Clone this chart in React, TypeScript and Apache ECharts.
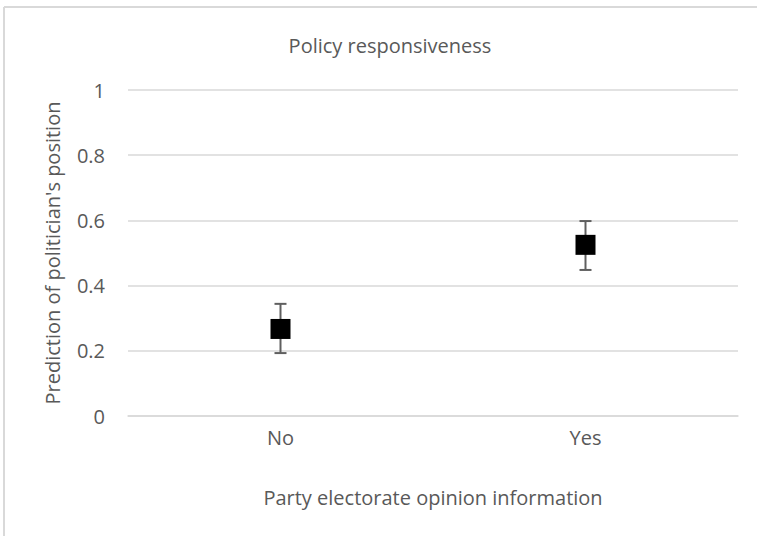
import React, { useEffect, useRef } from "react";
import * as echarts from "echarts";

const categories = ["No", "Yes"];
const pointValues = [0.267, 0.525];
const errorLow = [0.193, 0.448];
const errorHigh = [0.344, 0.598];
const yTicks = { min: 0, max: 1, interval: 0.2 };

const FONT = "'Open Sans', 'Noto Sans', sans-serif";
const TEXT = "#595959";
const GRID = "#d9d9d9";
const FS = 20;

export default function App() {
  const ref = useRef<HTMLDivElement>(null);
  useEffect(() => {
    if (!ref.current) return;
    const chart = echarts.init(ref.current, null, { renderer: "svg" });
    const errData = categories.map((_, i) => [i, errorLow[i], errorHigh[i]]);
    chart.setOption({
      animation: false,
      backgroundColor: "#ffffff",
      textStyle: { fontFamily: FONT },
      title: {
        text: "Policy responsiveness",
        left: 385,
        textAlign: "center",
        top: 30,
        textStyle: { fontFamily: FONT, fontSize: FS, fontWeight: "normal", color: TEXT },
      },
      grid: { left: 128, right: 19, top: 90, bottom: 120, containLabel: false },
      xAxis: {
        type: "category",
        data: categories,
        boundaryGap: true,
        axisLine: { show: true, lineStyle: { color: GRID, width: 1.5 } },
        axisTick: { show: false },
        axisLabel: { color: TEXT, fontSize: FS, fontFamily: FONT, margin: 11 },
        name: "Party electorate opinion information",
        nameLocation: "middle",
        nameGap: 71,
        nameTextStyle: { color: TEXT, fontSize: FS, fontFamily: FONT },
      },
      yAxis: {
        type: "value",
        min: yTicks.min,
        max: yTicks.max,
        interval: yTicks.interval,
        axisLine: { show: false },
        axisTick: { show: false },
        splitLine: { lineStyle: { color: GRID, width: 1.5 } },
        axisLabel: { color: TEXT, fontSize: FS, fontFamily: FONT, margin: 23 },
        name: "Prediction of politician's position",
        nameLocation: "middle",
        nameGap: 66,
        nameRotate: 90,
        nameTextStyle: { color: TEXT, fontSize: FS, fontFamily: FONT },
      },
      series: [
        {
          type: "custom",
          data: errData,
          z: 2,
          renderItem: (params: any, api: any) => {
            const x = api.coord([api.value(0), 0])[0];
            const yl = api.coord([api.value(0), api.value(1)])[1];
            const yh = api.coord([api.value(0), api.value(2)])[1];
            const cap = 6;
            const style = { stroke: "#5f5f5f", lineWidth: 2 };
            return {
              type: "group",
              children: [
                { type: "line", shape: { x1: x, y1: yl, x2: x, y2: yh }, style },
                { type: "line", shape: { x1: x - cap, y1: yl, x2: x + cap, y2: yl }, style },
                { type: "line", shape: { x1: x - cap, y1: yh, x2: x + cap, y2: yh }, style },
              ],
            };
          },
        },
        {
          type: "scatter",
          data: pointValues,
          symbol: "rect",
          symbolSize: 20,
          z: 3,
          itemStyle: { color: "#000000", opacity: 1 },
        },
      ],
      graphic: [
        { type: "line", shape: { x1: 4, y1: 7, x2: 757, y2: 7 }, style: { stroke: GRID, lineWidth: 2 } },
        { type: "line", shape: { x1: 4, y1: 7, x2: 4, y2: 536 }, style: { stroke: GRID, lineWidth: 2 } },
      ],
    });
    return () => chart.dispose();
  }, []);
  return (
    <div
      ref={ref}
      style={{ position: "fixed", left: 0, top: 0, width: 757, height: 536 }}
    />
  );
}
